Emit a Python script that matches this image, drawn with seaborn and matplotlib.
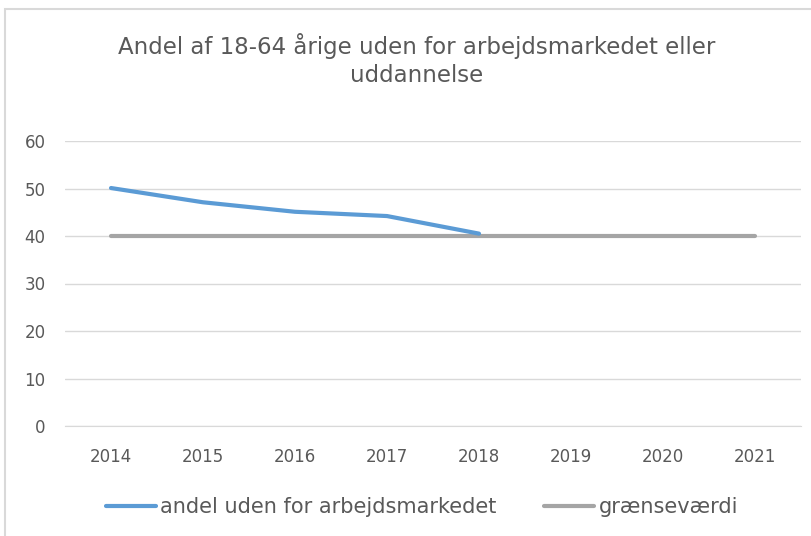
import pandas as pd
import matplotlib.pyplot as plt
import seaborn as sns
from matplotlib.patches import Rectangle

years = ['2014', '2015', '2016', '2017', '2018', '2019', '2020', '2021']
andel = [50.1, 47.1, 45.1, 44.2, 40.5]
graense = [40, 40, 40, 40, 40, 40, 40, 40]

title = 'Andel af 18-64 årige uden for arbejdsmarkedet eller\nuddannelse'
label_andel = 'andel uden for arbejdsmarkedet'
label_graense = 'grænseværdi'

sns.set_style('white')
plt.rcParams['font.family'] = ['DejaVu Sans']
txt = '#595959'

fig = plt.figure(figsize=(8.11, 5.36), dpi=100)
ax = fig.add_axes([65 / 811, 1 - 426 / 536, 736 / 811, 285 / 536])

df_a = pd.DataFrame({'year': years[:len(andel)], 'value': andel})
df_g = pd.DataFrame({'year': years, 'value': graense})

sns.lineplot(data=df_a, x='year', y='value', ax=ax, color='#5B9BD5', lw=3,
             label=label_andel, solid_capstyle='round', zorder=3)
sns.lineplot(data=df_g, x='year', y='value', ax=ax, color='#A5A5A5', lw=3,
             label=label_graense, solid_capstyle='round', zorder=2)

ax.set_xlim(-0.5, len(years) - 0.5)
ax.set_ylim(0, 60)
ax.set_yticks(range(0, 61, 10))
ax.yaxis.grid(True, color='#D9D9D9', lw=1)
ax.xaxis.grid(False)
for s in ['top', 'right', 'left']:
    ax.spines[s].set_visible(False)
ax.spines['bottom'].set_color('#D9D9D9')
ax.set_xlabel('')
ax.set_ylabel('')
ax.tick_params(axis='both', length=0, labelsize=12, labelcolor=txt)
ax.tick_params(axis='x', pad=16)
ax.tick_params(axis='y', pad=14)

ax.legend(loc='center', bbox_to_anchor=(422 / 811, 1 - 507 / 536),
          bbox_transform=fig.transFigure, ncol=2, frameon=False,
          fontsize=15, labelcolor=txt, handlelength=2.4, handletextpad=0.2,
          columnspacing=2.3)

fig.text(417 / 811, 1 - 60 / 536, title, ha='center', va='center',
         fontsize=16.5, color=txt, linespacing=1.25)

fig.patches.append(Rectangle((5 / 811, -0.01), 1.0, 1 - 9 / 536 + 0.01,
                             transform=fig.transFigure, fill=False,
                             edgecolor='#D9D9D9', lw=1.5))

fig.savefig('out.png', dpi=100)
